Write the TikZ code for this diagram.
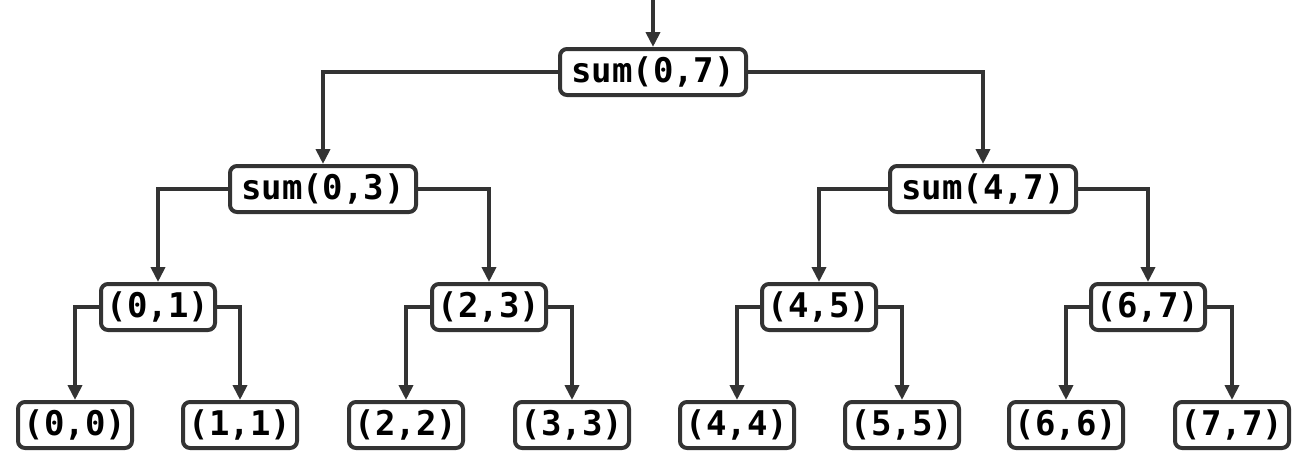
\documentclass[tikz,border=0pt]{standalone}
\usepackage{fontspec}
\setmonofont{DejaVu Sans Mono}
\usetikzlibrary{arrows.meta}
\definecolor{ink}{HTML}{333333}
\tikzset{
  callbox/.style={draw=ink, line width=4pt, rounded corners=7pt, fill=white,
    minimum height=46pt, inner sep=0pt, text=black,
    font=\fontsize{34}{34}\selectfont\ttfamily\bfseries},
  bigbox/.style={callbox, minimum width=186pt},
  smallbox/.style={callbox, minimum width=114pt},
  link/.style={draw=ink, line width=4pt, -{Triangle[length=15pt,width=14pt]}}
}
\begin{document}
\begin{tikzpicture}[x=1pt,y=-1pt]
\useasboundingbox (0,0) rectangle (1308,471);
% root and entry arrow
\coordinate (entry) at (653,0);
\node[bigbox] (r) at (653,72) {sum(0,7)};
% second level
\node[bigbox] (a) at (323,189) {sum(0,3)};
\node[bigbox] (b) at (983,189) {sum(4,7)};
% third level
\node[smallbox] (a1) at (158,307) {(0,1)};
\node[smallbox] (a2) at (489,307) {(2,3)};
\node[smallbox] (b1) at (819,307) {(4,5)};
\node[smallbox] (b2) at (1148,307) {(6,7)};
% leaves
\node[smallbox] (l0) at (75,425) {(0,0)};
\node[smallbox] (l1) at (240,425) {(1,1)};
\node[smallbox] (l2) at (406,425) {(2,2)};
\node[smallbox] (l3) at (572,425) {(3,3)};
\node[smallbox] (l4) at (737,425) {(4,4)};
\node[smallbox] (l5) at (902,425) {(5,5)};
\node[smallbox] (l6) at (1066,425) {(6,6)};
\node[smallbox] (l7) at (1232,425) {(7,7)};
% connectors
\draw[link] (entry) -- (r.north);
\draw[link] (r.west) -| (a.north);
\draw[link] (r.east) -| (b.north);
\draw[link] (a.west) -| (a1.north);
\draw[link] (a.east) -| (a2.north);
\draw[link] (b.west) -| (b1.north);
\draw[link] (b.east) -| (b2.north);
\draw[link] (a1.west) -| (l0.north);
\draw[link] (a1.east) -| (l1.north);
\draw[link] (a2.west) -| (l2.north);
\draw[link] (a2.east) -| (l3.north);
\draw[link] (b1.west) -| (l4.north);
\draw[link] (b1.east) -| (l5.north);
\draw[link] (b2.west) -| (l6.north);
\draw[link] (b2.east) -| (l7.north);
\end{tikzpicture}
\end{document}
